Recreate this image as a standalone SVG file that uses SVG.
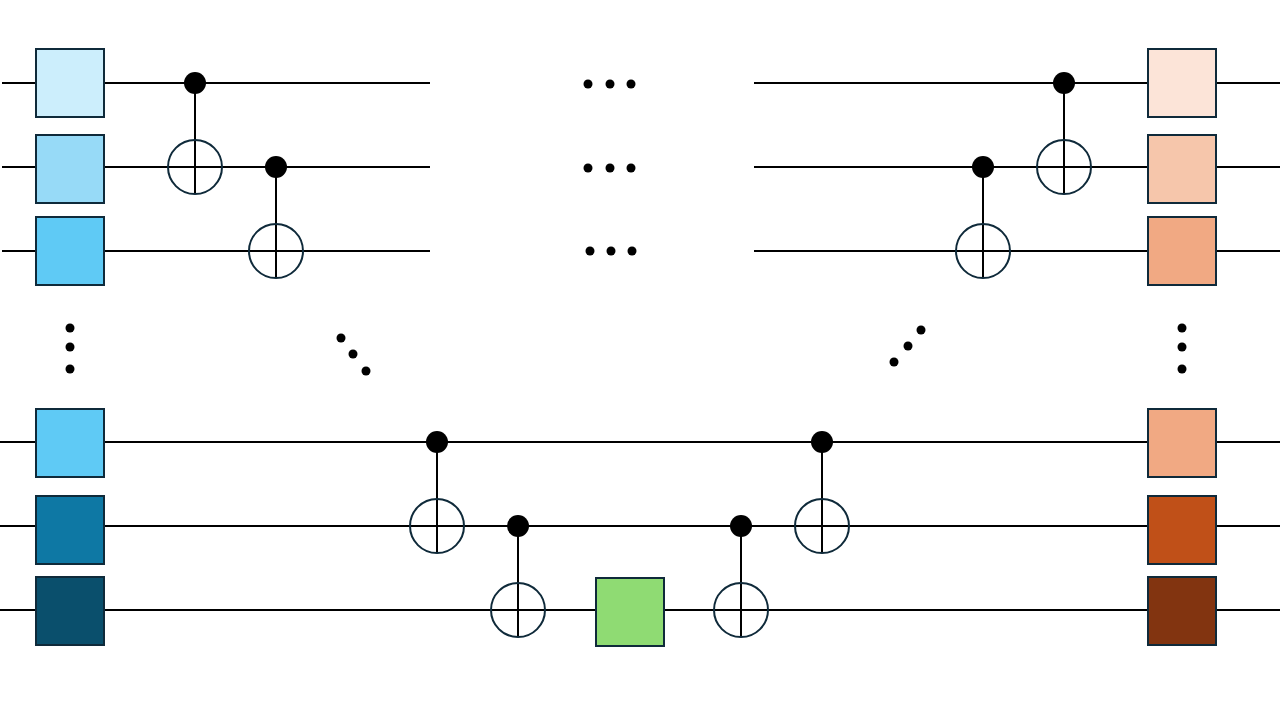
<svg xmlns="http://www.w3.org/2000/svg" width="1280" height="720" viewBox="0 0 1280 720">
<style>
.w{stroke:#000;stroke-width:2;fill:none}
.b{stroke:#0f2a3a;stroke-width:2}
.t{stroke:#0f2a3a;stroke-width:2;fill:none}
.c{fill:#000}
</style>
<rect width="1280" height="720" fill="#fff"/>
<g id="connectors">
<path class="w" d="M2 83H430M754 83H1280M2 167H430M754 167H1280M2 251H430M754 251H1280M0 442H1280M0 526H1280M0 610H1280"/>
<path class="w" d="M195 83V194M276 167V278M1064 83V194M983 167V278M437 442V553M518 526V637M741 526V637M822 442V553"/>
</g>
<g id="dots" class="c">
<circle cx="588" cy="84" r="4.5"/><circle cx="610" cy="84" r="4.5"/><circle cx="631" cy="84" r="4.5"/>
<circle cx="588" cy="168" r="4.5"/><circle cx="610" cy="168" r="4.5"/><circle cx="631" cy="168" r="4.5"/>
<circle cx="590" cy="251" r="4.5"/><circle cx="611" cy="251" r="4.5"/><circle cx="632" cy="251" r="4.5"/>
<circle cx="70" cy="328" r="4.5"/><circle cx="70" cy="347" r="4.5"/><circle cx="70" cy="369" r="4.5"/>
<circle cx="1182" cy="328" r="4.5"/><circle cx="1182" cy="347" r="4.5"/><circle cx="1182" cy="369" r="4.5"/>
<circle cx="341" cy="338" r="4.5"/><circle cx="353" cy="354" r="4.5"/><circle cx="366" cy="371" r="4.5"/>
<circle cx="894" cy="362" r="4.5"/><circle cx="908" cy="346" r="4.5"/><circle cx="921" cy="330" r="4.5"/>
</g>
<g id="left-boxes">
<rect class="b" x="36" y="49" width="68" height="68" fill="#cceefc"/>
<rect class="b" x="36" y="135" width="68" height="68" fill="#97daf7"/>
<rect class="b" x="36" y="217" width="68" height="68" fill="#5fcaf5"/>
<rect class="b" x="36" y="409" width="68" height="68" fill="#5fcaf5"/>
<rect class="b" x="36" y="496" width="68" height="68" fill="#0e78a4"/>
<rect class="b" x="36" y="577" width="68" height="68" fill="#0a4f6c"/>
</g>
<g id="right-boxes">
<rect class="b" x="1148" y="49" width="68" height="68" fill="#fce4d8"/>
<rect class="b" x="1148" y="135" width="68" height="68" fill="#f6c6ab"/>
<rect class="b" x="1148" y="217" width="68" height="68" fill="#f1a983"/>
<rect class="b" x="1148" y="409" width="68" height="68" fill="#f1a983"/>
<rect class="b" x="1148" y="496" width="68" height="68" fill="#c05018"/>
<rect class="b" x="1148" y="577" width="68" height="68" fill="#823410"/>
</g>
<g id="middle-box"><rect class="b" x="596" y="578" width="68" height="68" fill="#8fdb73"/></g>
<g id="cnots">
<circle class="c" cx="195" cy="83" r="11"/><circle class="t" cx="195" cy="167" r="27"/>
<circle class="c" cx="276" cy="167" r="11"/><circle class="t" cx="276" cy="251" r="27"/>
<circle class="c" cx="1064" cy="83" r="11"/><circle class="t" cx="1064" cy="167" r="27"/>
<circle class="c" cx="983" cy="167" r="11"/><circle class="t" cx="983" cy="251" r="27"/>
<circle class="c" cx="437" cy="442" r="11"/><circle class="t" cx="437" cy="526" r="27"/>
<circle class="c" cx="518" cy="526" r="11"/><circle class="t" cx="518" cy="610" r="27"/>
<circle class="c" cx="741" cy="526" r="11"/><circle class="t" cx="741" cy="610" r="27"/>
<circle class="c" cx="822" cy="442" r="11"/><circle class="t" cx="822" cy="526" r="27"/>
</g>
</svg>
